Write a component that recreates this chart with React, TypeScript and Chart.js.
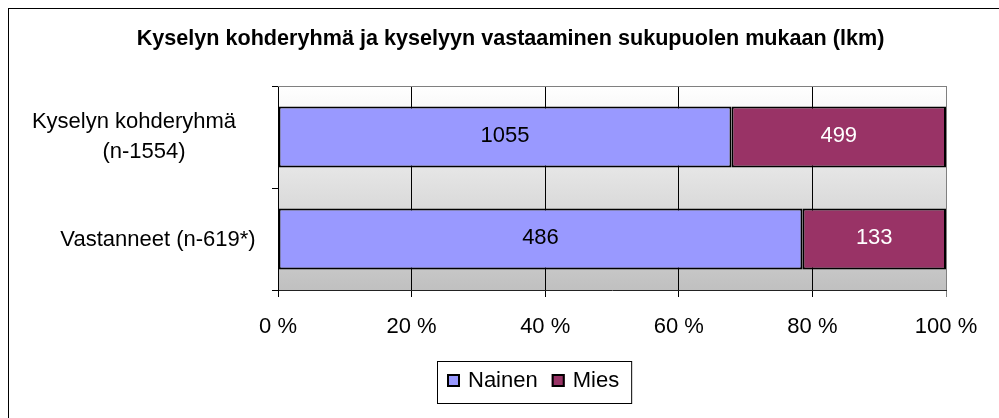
import React, { useEffect, useRef } from "react";
import { Chart, registerables } from "chart.js";

Chart.register(...registerables);

const TITLE = "Kyselyn kohderyhmä ja kyselyyn vastaaminen sukupuolen mukaan (lkm)";
const CATEGORY_LINES = [["Kyselyn kohderyhmä", "(n-1554)"], ["Vastanneet (n-619*)"]];
const SERIES_NAMES = ["Nainen", "Mies"];
const NAINEN = [1055, 486];
const MIES = [499, 133];
const X_TICKS = [0, 20, 40, 60, 80, 100];
const X_TICK_LABELS = ["0 %", "20 %", "40 %", "60 %", "80 %", "100 %"];
const SERIES_COLORS = ["#9999FF", "#993366"];
const LABEL_COLORS = ["#000000", "#FFFFFF"];

const FONT = '"Liberation Sans", Arial, Helvetica, sans-serif';
const W = 999;
const H = 418;

const COUNTS = [NAINEN, MIES];
const TOTALS = NAINEN.map((v, i) => v + MIES[i]);
const PCTS = COUNTS.map((arr) => arr.map((v, i) => (v / TOTALS[i]) * 100));

// layout of the category label lines: [x center, dy baseline] relative to category pixel
const CAT_LINE_LAYOUT = [
  [
    [134, -9],
    [144, 21],
  ],
  [[158, 7]],
];

const decor = {
  id: "decor",
  beforeDraw(chart: any) {
    const { ctx, chartArea: a } = chart;
    ctx.save();
    ctx.fillStyle = "#ffffff";
    ctx.fillRect(0, 0, chart.width, chart.height);
    const g = ctx.createLinearGradient(0, a.top, 0, a.bottom);
    g.addColorStop(0, "#ffffff");
    g.addColorStop(1, "#c0c0c0");
    ctx.fillStyle = g;
    ctx.fillRect(a.left, a.top, a.right - a.left, a.bottom - a.top);
    ctx.restore();
  },
  afterDatasetsDraw(chart: any) {
    const { ctx } = chart;
    ctx.save();
    ctx.font = `22px ${FONT}`;
    ctx.textAlign = "center";
    ctx.textBaseline = "alphabetic";
    chart.data.datasets.forEach((ds: any, di: number) => {
      const meta = chart.getDatasetMeta(di);
      meta.data.forEach((el: any, i: number) => {
        const p = el.getProps(["x", "y", "base"], true);
        ctx.fillStyle = LABEL_COLORS[di];
        ctx.fillText(String(COUNTS[di][i]), (p.x + p.base) / 2, p.y + 4.5);
      });
    });
    ctx.restore();
  },
  afterDraw(chart: any) {
    const { ctx, chartArea: a } = chart;
    const xs = chart.scales.x;
    const ys = chart.scales.y;
    ctx.save();
    // top plot border
    ctx.strokeStyle = "#808080";
    ctx.lineWidth = 1;
    ctx.beginPath();
    ctx.moveTo(a.left, a.top + 0.5);
    ctx.lineTo(a.right, a.top + 0.5);
    ctx.stroke();

    // outer border (clipped at right/bottom)
    ctx.strokeStyle = "#000000";
    ctx.lineWidth = 1;
    ctx.strokeRect(8.5, 8.5, chart.width + 20, chart.height + 20);

    // title
    ctx.fillStyle = "#000000";
    ctx.font = `bold 21.6px ${FONT}`;
    ctx.textAlign = "center";
    ctx.textBaseline = "alphabetic";
    ctx.fillText(TITLE, 510.5, 45);

    // category labels
    ctx.font = `22px ${FONT}`;
    CATEGORY_LINES.forEach((lines, ci) => {
      const cy = ys.getPixelForValue(ci);
      lines.forEach((line, li) => {
        const [cx, dy] = CAT_LINE_LAYOUT[ci][li];
        ctx.fillText(line, cx, cy + dy);
      });
    });

    // x tick labels
    X_TICKS.forEach((v, i) => {
      ctx.fillText(X_TICK_LABELS[i], xs.getPixelForValue(v), 333);
    });

    // legend
    ctx.textAlign = "left";
    const boxLeft = 437;
    const boxTop = 361;
    const boxH = 42;
    let x = boxLeft + 10;
    const items: { sx: number; tx: number; w: number }[] = [];
    SERIES_NAMES.forEach((name) => {
      const w = ctx.measureText(name).width;
      items.push({ sx: x, tx: x + 21, w });
      x = x + 21 + w + 14;
    });
    const boxW = x - 14 + 12 - boxLeft;
    ctx.fillStyle = "#ffffff";
    ctx.fillRect(boxLeft, boxTop, boxW, boxH);
    ctx.strokeStyle = "#000000";
    ctx.lineWidth = 1;
    ctx.strokeRect(boxLeft + 0.5, boxTop + 0.5, boxW, boxH);
    items.forEach((it, i) => {
      ctx.fillStyle = SERIES_COLORS[i];
      ctx.fillRect(it.sx, 374, 13, 13);
      ctx.strokeStyle = "#000000";
      ctx.lineWidth = 2;
      ctx.strokeRect(it.sx + 1, 375, 11, 11);
      ctx.fillStyle = "#000000";
      ctx.fillText(SERIES_NAMES[i], it.tx, 387);
    });
    ctx.restore();
  },
};

export default function App() {
  const ref = useRef<HTMLCanvasElement | null>(null);
  useEffect(() => {
    if (!ref.current) return;
    const chart = new Chart(ref.current, {
      type: "bar",
      data: {
        labels: CATEGORY_LINES.map((l) => l.join(" ")),
        datasets: SERIES_NAMES.map((name, di) => ({
          label: name,
          data: PCTS[di],
          backgroundColor: SERIES_COLORS[di],
          borderColor: "#000000",
          borderWidth: 2,
          borderSkipped: false,
          barPercentage: 0.6,
          categoryPercentage: 1,
        })),
      },
      options: {
        indexAxis: "y",
        responsive: false,
        animation: false,
        devicePixelRatio: 1,
        layout: { padding: { top: 86, right: 53, left: 0, bottom: 0 } },
        plugins: {
          legend: { display: false },
          title: { display: false },
          tooltip: { enabled: false },
        },
        scales: {
          x: {
            stacked: true,
            min: 0,
            max: 100,
            ticks: { display: false, stepSize: 20 },
            grid: {
              color: (c: any) => (c.tick && c.tick.value === 100 ? "#808080" : "#000000"),
              tickColor: (c: any) => (c.tick && c.tick.value === 100 ? "#808080" : "#000000"),
              lineWidth: 1,
              drawTicks: true,
              tickLength: 7,
            },
            border: { display: true, color: "#222222", width: 1 },
            afterFit: (s: any) => {
              s.height = 128;
            },
          },
          y: {
            stacked: true,
            offset: true,
            ticks: { display: false },
            grid: {
              offset: true,
              drawOnChartArea: false,
              drawTicks: true,
              tickLength: 6,
              color: "#000000",
            },
            border: { display: true, color: "#000000", width: 1 },
            afterFit: (s: any) => {
              s.width = 278;
            },
          },
        },
      },
      plugins: [decor],
    } as any);
    return () => chart.destroy();
  }, []);
  return (
    <div style={{ position: "fixed", left: 0, top: 0, width: W, height: H, overflow: "hidden", background: "#fff" }}>
      <canvas ref={ref} width={W} height={H} style={{ display: "block", width: W, height: H }} />
    </div>
  );
}
